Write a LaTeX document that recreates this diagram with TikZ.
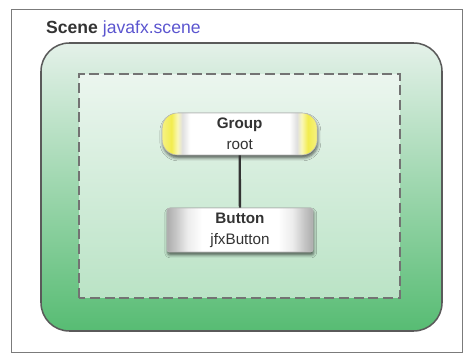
\documentclass[tikz,border=0pt]{standalone}
\usepackage{fontspec}
\setmainfont{Liberation Sans}
\usetikzlibrary{shadows.blur}

\definecolor{framegray}{HTML}{5A5A5A}
\definecolor{scenetop}{HTML}{E4F1E9}
\definecolor{scenemid}{HTML}{B6E1C3}
\definecolor{scenebot}{HTML}{57BC73}
\definecolor{pkgblue}{HTML}{5B55CF}
\definecolor{capyellow}{HTML}{F2EC4E}

% yellow end caps for the group pill, grey bands for the button
\pgfdeclarehorizontalshading{groupcap}{100bp}{color(0bp)=(capyellow!70!white);
  color(25bp)=(capyellow!70!white); color(28bp)=(capyellow); color(30bp)=(capyellow!40!white);
  color(31.5bp)=(gray!25); color(34bp)=(white); color(66bp)=(white); color(68.5bp)=(gray!25);
  color(70bp)=(capyellow!40!white); color(72bp)=(capyellow); color(75bp)=(capyellow!70!white);
  color(100bp)=(capyellow!70!white)}
\pgfdeclarehorizontalshading{buttonbar}{100bp}{color(0bp)=(gray!65);
  color(25bp)=(gray!65); color(28bp)=(gray!45); color(32bp)=(gray!15); color(37bp)=(white);
  color(63bp)=(white); color(68bp)=(gray!15); color(72bp)=(gray!45); color(75bp)=(gray!65);
  color(100bp)=(gray!65)}

\begin{document}
\begin{tikzpicture}[
  treenode/.style={draw=gray!55,line width=0.5pt,align=center,text=black!80,
    font=\fontsize{13}{18}\selectfont,
    blur shadow={shadow xshift=0.6pt,shadow yshift=-2.5pt,shadow blur radius=2.5pt,shadow opacity=60}},
  groupnode/.style={treenode,shade,shading=groupcap,rounded corners=13pt,
    minimum width=4.65cm,minimum height=1.26cm},
  buttonnode/.style={treenode,shade,shading=buttonbar,rounded corners=2pt,
    minimum width=4.38cm,minimum height=1.32cm}]
  \useasboundingbox (0,0) rectangle (13.95,10.62);
  % outer frame and title
  \draw[framegray!80,line width=0.8pt] (0.33,0.06) rectangle (13.86,10.35);
  \node[anchor=base west,inner sep=0pt,font=\fontsize{15}{17}\selectfont] (title) at (1.38,9.6)
    {\textcolor{black!80}{\textbf{Scene}} \textcolor{pkgblue}{javafx.scene}};
  % scene area with the root's dashed region
  \draw[framegray,line width=1.3pt,rounded corners=0.85cm,top color=scenetop,
    middle color=scenemid,bottom color=scenebot] (1.23,0.69) rectangle (13.26,9.33);
  \draw[black!55,line width=1.6pt,dash pattern=on 8.5pt off 4pt,fill=white,fill opacity=0.55]
    (2.37,1.68) rectangle (12.0,8.4);
  % scene graph
  \node[groupnode] (group) at (7.19,6.6) {\textbf{Group}\\root};
  \node[buttonnode] (button) at (7.2,3.72) {\textbf{Button}\\jfxButton};
  \draw[black!80,line width=2pt] (group) -- (button);
\end{tikzpicture}
\end{document}
